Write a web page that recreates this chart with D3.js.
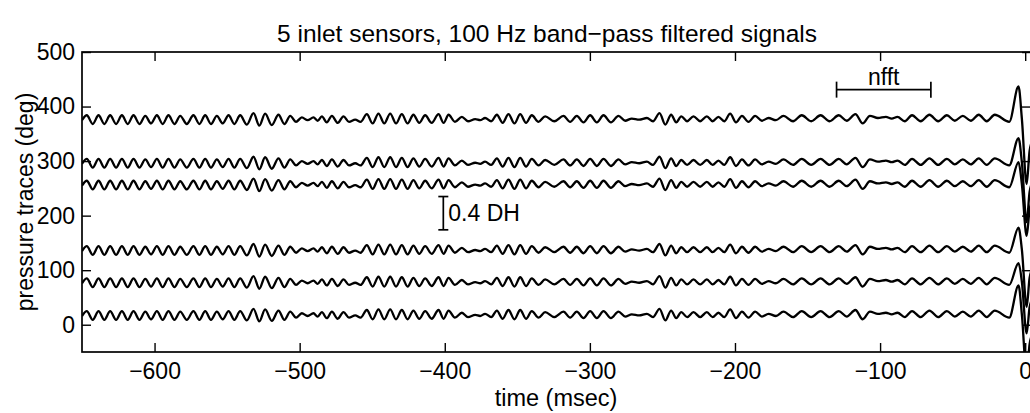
<!DOCTYPE html>
<html>
<head>
<meta charset="utf-8">
<script src="https://cdn.jsdelivr.net/npm/d3@7"></script>
<style>
  html, body { margin: 0; padding: 0; background: #fff; }
  svg { display: block; }
  text { font-family: "Liberation Sans", Arial, Helvetica, sans-serif; fill: #000; }
</style>
</head>
<body>
<svg id="chart" width="1030" height="413"></svg>
<script>
// Tick values for both axes
const xTicks = [-600, -500, -400, -300, -200, -100, 0];
const yTicks = [0, 100, 200, 300, 400, 500];

// Vertical offset (deg) of each pressure trace, top to bottom
const traceOffsets = [378, 298, 258, 138, 79, 19];
// Height of the final pressure peak and depth of the drop after it (deg)
const spikePeaks = [59, 44, 40, 40, 34, 53];
const dropDepths = [-120, -110, -95, -105, -95, -110];

// Filtered signal, as successive extrema: [time (msec), deviation (deg)]
const waveform = [
  [-650, -3],
  [-646.7, 6], [-642.6, -10], [-638.6, 6], [-634.6, -10],
  [-630.6, 6], [-626.5, -10], [-622.5, 6], [-618.5, -10],
  [-614.5, 6], [-610.4, -10], [-606.4, 5], [-602.4, -9],
  [-598.4, 6], [-594.4, -10], [-590.4, 6], [-586.3, -10],
  [-582.3, 5], [-577.8, -10], [-573.2, 6], [-569.1, -10],
  [-565.1, 6], [-561.1, -10], [-557.1, 5], [-553.0, -9],
  [-549.0, 6], [-545.0, -10], [-541.0, 6], [-536.4, -11],
  [-531.8, 10], [-527.8, -13], [-523.8, 9], [-519.2, -12],
  [-514.6, 7], [-510.5, -10], [-506.5, 5], [-502.5, -6],
  [-498.5, 2], [-494.5, -3], [-490.5, 2], [-487.6, -4],
  [-484.7, 4], [-481.3, -7], [-477.8, 5], [-473.8, -8],
  [-469.8, 4], [-466.0, -6], [-461.7, -2], [-458.0, -6],
  [-453.7, 8], [-449.7, -9], [-445.7, 9], [-441.7, -9],
  [-437.6, 9], [-433.6, -9], [-429.6, 8], [-425.6, -9],
  [-421.6, 7], [-417.6, -8], [-413.5, 6], [-409.0, -8],
  [-404.3, 8], [-400.8, -8], [-397.4, 7], [-393.0, -6],
  [-388.2, 3], [-384.0, -5], [-379.0, -1], [-375.6, -3],
  [-372.2, 1], [-368.0, -5], [-364.1, 7], [-360.1, -8],
  [-356.1, 8], [-352.0, -9], [-348.0, 8], [-344.0, -8],
  [-340.0, 6], [-335.4, -6], [-330.8, 4], [-324.5, -5],
  [-318.2, 5], [-313.6, -6], [-309.0, 5], [-304.4, -7],
  [-299.8, 6], [-295.2, -7], [-290.6, 6], [-285.5, -7],
  [-280.3, 5], [-275.7, -4], [-271.1, 0], [-266.0, -2],
  [-260.7, 1], [-256.5, -5], [-252.0, 10], [-248.0, -11],
  [-244.0, 7], [-240.5, -7], [-237.0, 4], [-233.0, -5],
  [-228.6, 4], [-224.0, -5], [-219.4, 4], [-215.4, -5],
  [-211.4, 3], [-207.4, -5], [-203.3, 9], [-199.3, -7],
  [-195.2, 5], [-190.7, -6], [-186.1, 5], [-181.5, -4],
  [-176.9, 1], [-171.8, -3], [-166.6, 5], [-160.0, -5],
  [-154.0, 6], [-147.5, -5], [-141.0, 6], [-134.8, -5],
  [-128.5, 6], [-123.0, -4], [-117.0, 8], [-112.0, -9],
  [-107.0, 5], [-101.5, 1], [-96.0, 3], [-92.0, 0],
  [-88.0, 3], [-83.0, -5], [-78.0, 6], [-72.0, -5],
  [-66.0, 7], [-60.0, -5], [-54.0, 6], [-48.5, -4],
  [-43.0, 5], [-37.5, -4], [-32.0, 7], [-26.5, -5],
  [-21.0, 7], [-11.0, -6]
];
// Times (msec) of the final peak, the drop and the end of the record
const tailTimes = [-4.6, -2.3, 1.0, 3.0, 5.0];

// Annotation data: nfft window (msec) and the 0.4 DH scale bar (deg)
const nfftSpan = [-130, -65];
const nfftLevel = 431;
const dhBarTime = -401;
const dhBarSpan = [174, 235];

const plot = { left: 82, right: 1031, top: 52, bottom: 352 };
const FONT = '"Liberation Sans", Arial, Helvetica, sans-serif';

const svg = d3.select("#chart");

const x = d3.scaleLinear().domain([-650, 4]).range([plot.left, plot.right]);
const y = d3.scaleLinear().domain([-50, 500]).range([plot.bottom, plot.top]);

svg.append("defs").append("clipPath").attr("id", "plotClip")
  .append("rect")
  .attr("x", plot.left).attr("y", plot.top)
  .attr("width", plot.right - plot.left).attr("height", plot.bottom - plot.top);

// Traces: shared filtered waveform plus each sensor's own final peak and drop
const traces = svg.append("g").attr("clip-path", "url(#plotClip)");
traceOffsets.forEach((off, i) => {
  const tail = [
    [tailTimes[0], spikePeaks[i]],
    [tailTimes[1], 0],
    [tailTimes[2], dropDepths[i]],
    [tailTimes[3], dropDepths[i] / 2],
    [tailTimes[4], dropDepths[i] / 3]
  ];
  const pts = waveform.concat(tail);
  const line = d3.line()
    .x(d => x(d[0]))
    .y(d => y(off + d[1]))
    .curve(d3.curveMonotoneX);
  traces.append("path")
    .attr("fill", "none")
    .attr("stroke", "#000")
    .attr("stroke-width", 2.3)
    .attr("stroke-linejoin", "round")
    .attr("d", line(pts));
});

// Axes: ticks point inward on all four sides
const tickLen = 9;
const fmt = d3.format("d");

const axisBottom = d3.axisBottom(x).tickValues(xTicks).tickFormat(fmt).tickSizeInner(-tickLen).tickSizeOuter(0).tickPadding(11);
const axisTop = d3.axisTop(x).tickValues(xTicks).tickFormat("").tickSizeInner(-tickLen).tickSizeOuter(0);
const axisLeft = d3.axisLeft(y).tickValues(yTicks).tickFormat(fmt).tickSizeInner(-tickLen).tickSizeOuter(0).tickPadding(7);
const axisRight = d3.axisRight(y).tickValues(yTicks).tickFormat("").tickSizeInner(-tickLen).tickSizeOuter(0);

function styleAxis(g) {
  g.select(".domain").remove();
  g.selectAll(".tick line").attr("stroke", "#000").attr("stroke-width", 1.4);
  g.selectAll(".tick text")
    .attr("fill", "#000")
    .style("font-size", "23px")
    .style("font-family", FONT);
}

svg.append("g").attr("transform", `translate(0,${plot.bottom})`).call(axisBottom).call(styleAxis);
svg.append("g").attr("transform", `translate(0,${plot.top})`).call(axisTop).call(styleAxis);
svg.append("g").attr("transform", `translate(${plot.left},0)`).call(axisLeft).call(styleAxis);
svg.append("g").attr("transform", `translate(${plot.right},0)`).call(axisRight).call(styleAxis);

svg.append("rect")
  .attr("x", plot.left).attr("y", plot.top)
  .attr("width", plot.right - plot.left).attr("height", plot.bottom - plot.top)
  .attr("fill", "none").attr("stroke", "#000").attr("stroke-width", 1.7);

// nfft window bracket
const nf = svg.append("g").attr("stroke", "#000").attr("stroke-width", 1.7);
nf.append("line")
  .attr("x1", x(nfftSpan[0])).attr("x2", x(nfftSpan[1]))
  .attr("y1", y(nfftLevel)).attr("y2", y(nfftLevel));
nfftSpan.forEach(t => {
  nf.append("line")
    .attr("x1", x(t)).attr("x2", x(t))
    .attr("y1", y(nfftLevel) - 8).attr("y2", y(nfftLevel) + 8);
});
svg.append("text")
  .attr("x", x((nfftSpan[0] + nfftSpan[1]) / 2))
  .attr("y", y(nfftLevel) - 5)
  .attr("text-anchor", "middle")
  .style("font-size", "23px")
  .text("nfft");

// 0.4 DH scale bar
const bx = x(dhBarTime);
const db = svg.append("g").attr("stroke", "#000").attr("stroke-width", 1.7);
db.append("line").attr("x1", bx).attr("x2", bx).attr("y1", y(dhBarSpan[0])).attr("y2", y(dhBarSpan[1]));
dhBarSpan.forEach(v => {
  db.append("line").attr("x1", bx - 5).attr("x2", bx + 5).attr("y1", y(v)).attr("y2", y(v));
});
svg.append("text")
  .attr("x", bx + 5)
  .attr("y", (y(dhBarSpan[0]) + y(dhBarSpan[1])) / 2)
  .attr("dy", "0.36em")
  .style("font-size", "23px")
  .text("0.4 DH");

// Title and axis labels
svg.append("text")
  .attr("x", 547)
  .attr("y", 42)
  .attr("text-anchor", "middle")
  .style("font-size", "24.5px")
  .text("5 inlet sensors, 100 Hz band\u2212pass filtered signals");

svg.append("text")
  .attr("x", 556)
  .attr("y", 406)
  .attr("text-anchor", "middle")
  .style("font-size", "23.5px")
  .text("time (msec)");

svg.append("text")
  .attr("transform", `translate(33,${(plot.top + plot.bottom) / 2}) rotate(-90)`)
  .attr("text-anchor", "middle")
  .style("font-size", "23px")
  .text("pressure traces (deg)");
</script>
</body>
</html>
